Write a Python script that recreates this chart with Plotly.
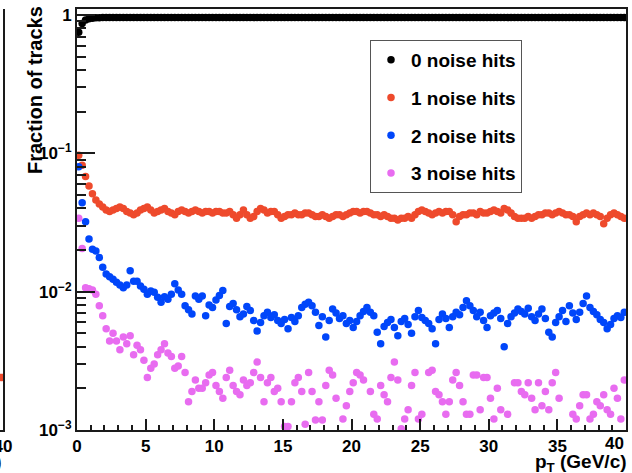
import plotly.graph_objects as go

# bin centres of pT (GeV/c), 0.25 GeV bins from 0 to 40
BIN_WIDTH = 0.25
N_BINS = 160
pt = [BIN_WIDTH * (i + 0.5) for i in range(N_BINS)]

frac_0 = [
    0.75, 0.87, 0.92, 0.94, 0.95, 0.955, 0.958, 0.960, 0.961, 0.960,
    0.962, 0.961, 0.960, 0.961, 0.962, 0.961, 0.960, 0.961, 0.962, 0.961,
    0.960, 0.961, 0.962, 0.961, 0.960, 0.961, 0.962, 0.961, 0.960, 0.961,
    0.962, 0.961, 0.960, 0.961, 0.962, 0.961, 0.960, 0.961, 0.962, 0.961,
    0.960, 0.961, 0.962, 0.961, 0.960, 0.961, 0.962, 0.961, 0.960, 0.961,
    0.962, 0.961, 0.960, 0.961, 0.962, 0.961, 0.960, 0.961, 0.962, 0.961,
    0.960, 0.961, 0.962, 0.961, 0.960, 0.961, 0.962, 0.961, 0.960, 0.961,
    0.962, 0.961, 0.960, 0.961, 0.962, 0.961, 0.960, 0.961, 0.962, 0.961,
    0.960, 0.961, 0.962, 0.961, 0.960, 0.961, 0.962, 0.961, 0.960, 0.961,
    0.962, 0.961, 0.960, 0.961, 0.962, 0.961, 0.960, 0.961, 0.962, 0.961,
    0.960, 0.961, 0.962, 0.961, 0.960, 0.961, 0.962, 0.961, 0.960, 0.961,
    0.962, 0.961, 0.960, 0.961, 0.962, 0.961, 0.960, 0.961, 0.962, 0.961,
    0.960, 0.961, 0.962, 0.961, 0.960, 0.961, 0.962, 0.961, 0.960, 0.961,
    0.962, 0.961, 0.960, 0.961, 0.962, 0.961, 0.960, 0.961, 0.962, 0.961,
    0.960, 0.961, 0.962, 0.961, 0.960, 0.961, 0.962, 0.961, 0.960, 0.961,
    0.962, 0.961, 0.960, 0.961, 0.962, 0.961, 0.960, 0.961, 0.962, 0.961,
]

frac_1 = [
    0.097, 0.082, 0.068, 0.058, 0.051, 0.046, 0.043, 0.041, 0.039, 0.038,
    0.039, 0.040, 0.041, 0.040, 0.038, 0.037, 0.036, 0.037, 0.039, 0.040,
    0.041, 0.039, 0.037, 0.038, 0.039, 0.040, 0.038, 0.037, 0.036, 0.038,
    0.039, 0.038, 0.037, 0.038, 0.039, 0.038, 0.037, 0.038, 0.038, 0.037,
    0.038, 0.038, 0.037, 0.037, 0.038, 0.036, 0.034, 0.036, 0.039, 0.036,
    0.034, 0.035, 0.038, 0.040, 0.039, 0.037, 0.038, 0.038, 0.036, 0.034,
    0.035, 0.036, 0.036, 0.037, 0.036, 0.036, 0.037, 0.037, 0.036, 0.035,
    0.035, 0.036, 0.035, 0.034, 0.035, 0.036, 0.036, 0.035, 0.036, 0.037,
    0.038, 0.038, 0.037, 0.038, 0.038, 0.037, 0.036, 0.036, 0.035, 0.036,
    0.035, 0.034, 0.034, 0.033, 0.034, 0.034, 0.035, 0.034, 0.036, 0.038,
    0.039, 0.038, 0.037, 0.036, 0.037, 0.038, 0.037, 0.038, 0.038, 0.036,
    0.032, 0.035, 0.036, 0.036, 0.037, 0.037, 0.036, 0.038, 0.037, 0.037,
    0.038, 0.039, 0.038, 0.037, 0.040, 0.039, 0.037, 0.035, 0.034, 0.034,
    0.034, 0.035, 0.034, 0.035, 0.036, 0.036, 0.037, 0.037, 0.036, 0.037,
    0.038, 0.037, 0.036, 0.036, 0.035, 0.032, 0.035, 0.036, 0.037, 0.036,
    0.037, 0.036, 0.035, 0.031, 0.034, 0.036, 0.037, 0.036, 0.035, 0.034,
]

frac_2 = [
    0.080, 0.044, 0.032, 0.024, 0.0203, 0.0197, 0.0177, 0.0150, 0.0134, 0.0128,
    0.0123, 0.0117, 0.0112, 0.0107, 0.0112, 0.0142, 0.0119, 0.0119, 0.0110, 0.0104,
    0.0096, 0.0101, 0.0099, 0.0091, 0.0084, 0.0092, 0.0088, 0.0096, 0.0114, 0.0103,
    0.0096, 0.0079, 0.0074, 0.0069, 0.0093, 0.0088, 0.0093, 0.0067, 0.0080, 0.0077,
    0.0087, 0.0094, 0.0102, 0.0059, 0.0078, 0.0082, 0.0074, 0.0066, 0.0069, 0.0078,
    0.0073, 0.0062, 0.0052, 0.0060, 0.0067, 0.0071, 0.0065, 0.0068, 0.0062, 0.0059,
    0.0063, 0.0054, 0.0065, 0.0061, 0.0067, 0.0077, 0.0081, 0.0084, 0.0079, 0.0071,
    0.0057, 0.0066, 0.0047, 0.0062, 0.0075, 0.0070, 0.0064, 0.0067, 0.0059, 0.0062,
    0.0055, 0.0061, 0.0067, 0.0072, 0.0077, 0.0071, 0.0067, 0.0051, 0.0042, 0.0056,
    0.0060, 0.0063, 0.0055, 0.0048, 0.0061, 0.0064, 0.0058, 0.0050, 0.0066, 0.0073,
    0.0065, 0.0062, 0.0059, 0.0054, 0.0042, 0.0063, 0.0069, 0.0064, 0.0055, 0.0066,
    0.0071, 0.0068, 0.0077, 0.0086, 0.0079, 0.0073, 0.0066, 0.0071, 0.0062, 0.0055,
    0.0067, 0.0070, 0.0073, 0.0064, 0.0040, 0.0059, 0.0066, 0.0070, 0.0075, 0.0072,
    0.0069, 0.0076, 0.0066, 0.0062, 0.0069, 0.0075, 0.0064, 0.0051, 0.0047, 0.0060,
    0.0066, 0.0073, 0.0061, 0.0079, 0.0070, 0.0063, 0.0071, 0.0082, 0.0093, 0.0077,
    0.0072, 0.0068, 0.0063, 0.0060, 0.0054, 0.0058, 0.0064, 0.0067, 0.0065, 0.0071,
]

# None marks empty bins (no track with three noise hits)
frac_3 = [
    0.034, 0.0205, 0.0107, 0.0105, 0.0103, 0.0096, 0.0079, 0.0067, 0.0054, 0.0044,
    0.0050, 0.0044, 0.0038, 0.0047, 0.0042, 0.0048, 0.0035, 0.0041, 0.0038, 0.0032,
    0.0024, 0.0028, 0.0030, 0.0035, 0.0038, 0.0042, 0.0036, 0.0034, 0.0028, 0.0029,
    0.0034, 0.0026, 0.0016, 0.0019, 0.0023, 0.0020, 0.0020, 0.0022, 0.0025, 0.0026,
    0.0021, 0.0019, 0.0017, 0.0024, 0.0027, 0.0021, 0.0019, 0.0018, 0.0023, 0.0021,
    0.0022, 0.0026, 0.0031, 0.0024, 0.0016, 0.0022, 0.0024, 0.0019, 0.0020, 0.0016,
    0.00106, 0.00106, 0.0016, 0.0022, 0.0024, 0.0019, 0.0011, 0.0026, 0.0019, 0.00118,
    0.0016, 0.00118, 0.0021, 0.0027, 0.0025, 0.0017, None, 0.0012, 0.0015, 0.0019,
    0.0022, 0.0026, 0.0025, 0.0023, None, 0.0019, 0.0013, 0.0012, 0.0021, 0.0018,
    0.0016, 0.0024, 0.0031, 0.0023, 0.00102, 0.0012, 0.0014, 0.0021, 0.0026, 0.0012,
    0.0013, None, 0.0026, 0.0027, 0.0019, 0.0018, 0.0016, 0.0013, 0.0016, 0.0023,
    0.0026, 0.0021, 0.0016, 0.0013, 0.0013, 0.0025, 0.0025, 0.0014, 0.0024, 0.0024,
    0.0017, 0.0012, 0.0020, 0.0014, None, 0.0013, None, 0.0022, 0.0022, 0.0019,
    0.0018, 0.0022, 0.0017, 0.0014, 0.0022, 0.0015, 0.0019, 0.0014, 0.0022, 0.0026,
    0.0017, None, None, None, 0.0013, 0.0012, 0.0015, 0.0018, 0.0018, 0.0012,
    0.0013, 0.0016, 0.0015, 0.0018, 0.0014, 0.0013, 0.0020, 0.0017, 0.0012, 0.0023,
]

series_names = ["0 noise hits", "1 noise hits", "2 noise hits", "3 noise hits"]
series_values = [frac_0, frac_1, frac_2, frac_3]
series_colors = ["#000000", "#EE4A2C", "#0046FA", "#E86CF0"]

# neighbouring panel (only its right edge is in view)
left_pt = [39.5]
left_frac = [0.0024]

x_tick_vals = [0, 5, 10, 15, 20, 25, 30, 35]
x_last_tick = 40
y_tick_vals = [1e-3, 1e-2, 1e-1, 1]
y_tick_text = ["10<sup>−3</sup>", "10<sup>−2</sup>", "10<sup>−1</sup>", "1"]
y_minor_vals = [m * 10 ** e for e in (-3, -2, -1) for m in range(2, 10)]

W, H = 632, 473
FONT = "Liberation Sans"
AXIS_COLOR = "#1a1a1a"
TICK_FONT = dict(family=FONT, size=17, weight="bold", color="black")
TITLE_FONT = dict(family=FONT, size=19, weight="bold", color="black")

fig = go.Figure()

for name, vals, col in zip(series_names, series_values, series_colors):
    fig.add_trace(go.Scatter(
        x=pt, y=vals, mode="markers", name=name, legendgroup=name,
        marker=dict(color=col, size=7.5, line=dict(width=0)),
        xaxis="x", yaxis="y",
    ))

fig.add_trace(go.Scatter(
    x=left_pt, y=left_frac, mode="markers", showlegend=False,
    marker=dict(color=series_colors[1], size=7.5, line=dict(width=0)),
    xaxis="x2", yaxis="y2",
))

x0, x1 = 77 / W, 626 / W
y0, y1 = 1 - 430 / H, 1 - 9 / H

fig.update_layout(
    width=W, height=H,
    margin=dict(l=0, r=0, t=0, b=0, autoexpand=False),
    paper_bgcolor="white", plot_bgcolor="white",
    font=dict(family=FONT, size=17, color="black", weight="bold"),
    showlegend=True,
    legend=dict(
        x=370 / W, y=1 - 40 / H, xanchor="left", yanchor="top",
        bgcolor="white", bordercolor="#555555", borderwidth=1,
        font=dict(family=FONT, size=19, weight="bold"),
        tracegroupgap=10, traceorder="grouped",
        entrywidth=140,
    ),
    xaxis=dict(
        domain=[x0, x1], range=[0, 40], anchor="y", automargin=False,
        showgrid=False, zeroline=False,
        showline=True, linecolor=AXIS_COLOR, linewidth=2, mirror=True,
        ticks="inside", ticklen=11, tickwidth=1.5, tickcolor=AXIS_COLOR,
        tickvals=x_tick_vals + [x_last_tick],
        ticktext=[str(v) for v in x_tick_vals] + [""],
        minor=dict(ticks="inside", ticklen=5, tickwidth=1.5, tickcolor=AXIS_COLOR,
                   tick0=0, dtick=1),
        tickfont=TICK_FONT,
    ),
    yaxis=dict(
        domain=[y0, y1], type="log", range=[-3, 0.044], anchor="x", automargin=False,
        showgrid=False, zeroline=False,
        showline=True, linecolor=AXIS_COLOR, linewidth=2, mirror=True,
        ticks="inside", ticklen=18, tickwidth=1.5, tickcolor=AXIS_COLOR,
        tickvals=y_tick_vals, ticktext=y_tick_text,
        minor=dict(ticks="inside", ticklen=9, tickwidth=1.5, tickcolor=AXIS_COLOR,
                   tickvals=y_minor_vals),
        tickfont=TICK_FONT,
    ),
    xaxis2=dict(
        domain=[0, 3 / W], range=[39, 40], anchor="y2", automargin=False,
        showgrid=False, zeroline=False,
        showline=True, linecolor=AXIS_COLOR, linewidth=2,
        ticks="", tickvals=[40], ticktext=["40"], ticklabeloverflow="allow",
        tickfont=TICK_FONT,
    ),
    yaxis2=dict(
        domain=[y0, y1], type="log", range=[-3, 0.044], anchor="x2", side="right",
        automargin=False, showgrid=False, zeroline=False,
        showline=True, linecolor=AXIS_COLOR, linewidth=2,
        showticklabels=False, ticks="",
    ),
)

# last x tick label kept inside the frame's right edge
fig.add_annotation(
    text=str(x_last_tick), xref="x", yref="paper", x=x_last_tick, y=1 - 432 / H,
    xanchor="right", yanchor="top", showarrow=False, font=TICK_FONT,
)
fig.add_annotation(
    text="Fraction of tracks", textangle=-90,
    xref="paper", yref="paper", x=35 / W, y=1 - 4 / H,
    xanchor="center", yanchor="top", showarrow=False,
    font=dict(family=FONT, size=20, weight="bold"),
)
fig.add_annotation(
    text="p<sub>T</sub> (GeV/c)",
    xref="paper", yref="paper", x=629 / W, y=1 - 449 / H,
    xanchor="right", yanchor="top", showarrow=False,
    font=TITLE_FONT,
)
fig.add_annotation(
    text="p<sub>T</sub> (GeV/c)",
    xref="paper", yref="paper", x=4 / W, y=1 - 449 / H,
    xanchor="right", yanchor="top", showarrow=False,
    font=TITLE_FONT,
)

fig.write_html("out.html")
